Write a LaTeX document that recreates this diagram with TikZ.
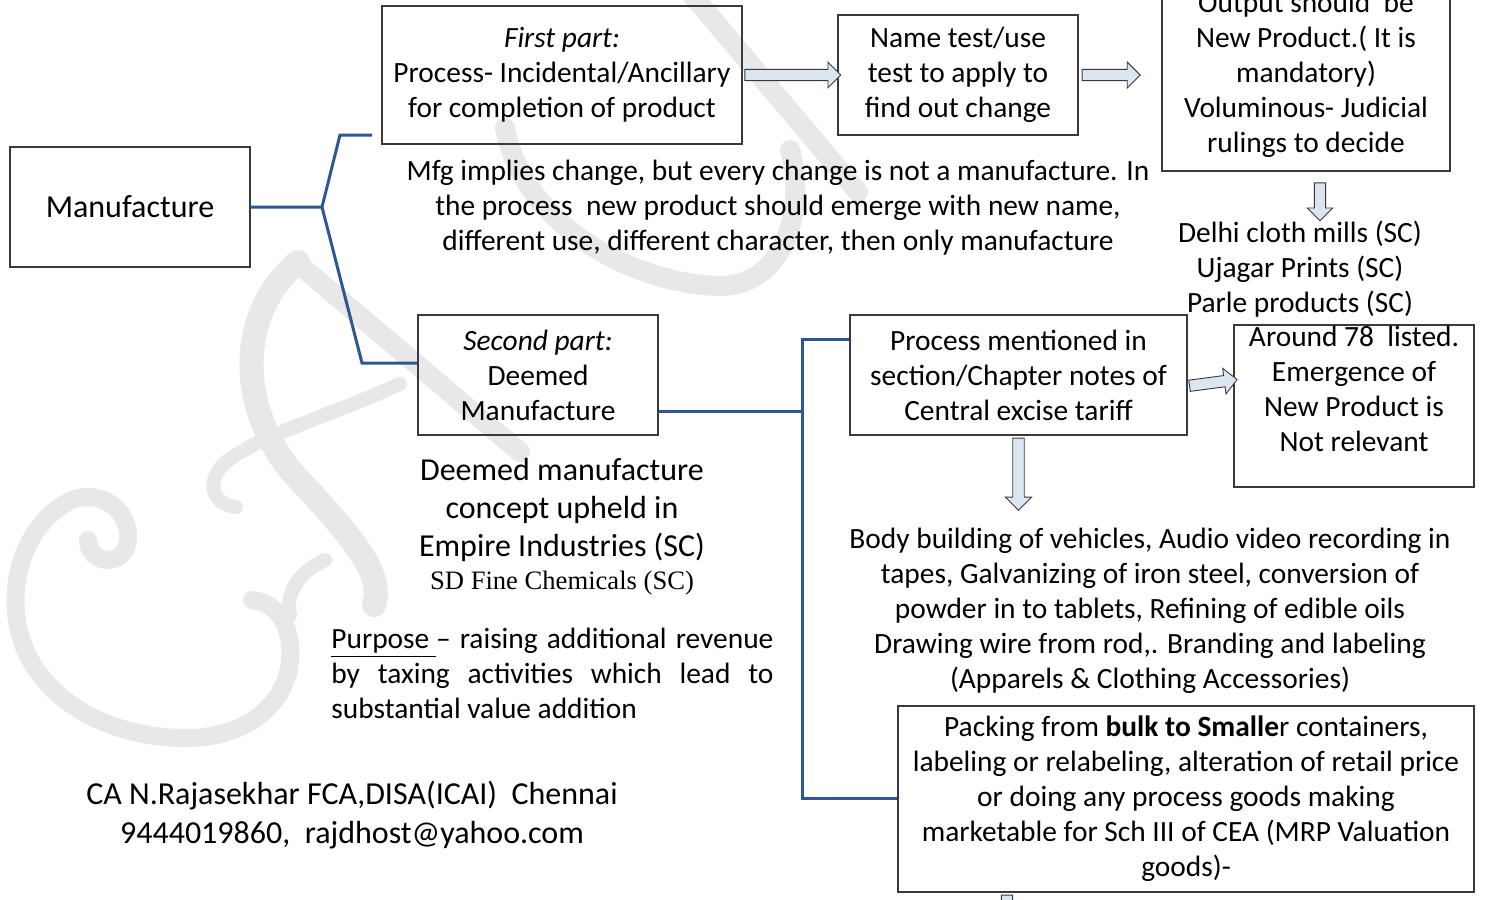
\documentclass[tikz,border=0pt]{standalone}
\usepackage{fontspec}
\setmainfont{Carlito}
\newfontfamily\timesfont{Liberation Serif}
\usetikzlibrary{shapes.arrows,calc}
\definecolor{linkblue}{HTML}{2E5692}
\definecolor{arrowfill}{HTML}{DCE6F2}
\definecolor{boxline}{HTML}{3A3A3A}
\definecolor{markgray}{HTML}{E8E8E8}

\tikzset{
  box/.style={draw=boxline, line width=0.6pt, inner sep=0pt, align=center,
    font=\fontsize{14.7}{17.5}\selectfont},
  note/.style={inner sep=0pt, align=center, font=\fontsize{14.7}{17.5}\selectfont},
  link/.style={draw=linkblue, line width=1.5pt, line join=miter},
  blockarrow/.style={single arrow, draw=boxline, fill=arrowfill, line width=0.45pt,
    inner sep=2.6pt, single arrow head extend=3.6pt, single arrow tip angle=90,
    sloped, midway, outer sep=0pt},
  wm/.style={draw=markgray, line cap=round, line join=round},
}

\begin{document}
\begin{tikzpicture}[x=0.5pt, y=-0.5pt]
\useasboundingbox (0,0) rectangle (1490,900);
\fill[white] (0,0) rectangle (1490,900);

% monogram watermark
\draw[wm, line width=10pt] (688,-10) -- (858,192);
\draw[wm, line width=10pt] (505,128) .. controls (525,230) and (640,285) .. (720,286)
      .. controls (790,285) and (805,200) .. (790,150);
\draw[wm, line width=10pt] (296,262) -- (520,452);
\draw[wm, line width=12pt] (298,262) .. controls (240,310) and (235,400) .. (290,470)
      .. controls (345,530) and (385,570) .. (374,605);
\draw[wm, line width=7pt] (400,384) .. controls (320,420) and (245,440) .. (220,468)
      .. controls (205,490) and (218,505) .. (236,507);
\draw[wm, line width=7pt] (325,560) .. controls (298,572) and (285,595) .. (290,615);
\draw[wm, line width=9pt] (88,540) .. controls (88,565) and (125,568) .. (128,540)
      .. controls (130,505) and (95,490) .. (72,500)
      .. controls (30,520) and (12,570) .. (16,612)
      .. controls (22,690) and (100,738) .. (185,738)
      .. controls (260,738) and (295,690) .. (290,645)
      .. controls (287,615) and (270,602) .. (252,600);

% boxes
\node[box, minimum width=120pt, minimum height=60pt,
      font=\fontsize{16}{19.5}\selectfont] (manu) at (130,207) {Manufacture};
\node[box, minimum width=180pt, minimum height=69pt] (first) at (562,75)
  {\textit{First part:}\\Process- Incidental/Ancillary\\for completion of product};
\node[box, minimum width=120pt, minimum height=60pt] (nametest) at (958,75)
  {Name test/use\\test to apply to\\find out change};
\node[box, minimum width=144pt, minimum height=96pt] (output) at (1306,75)
  {Output should~ be\\New Product.( It is\\mandatory)\\Voluminous- Judicial\\rulings to decide};
\node[box, minimum width=120pt, minimum height=60pt] (second) at (538,375)
  {\textit{Second part:}\\Deemed\\Manufacture};
\node[box, minimum width=168.5pt, minimum height=60pt] (process) at (1018.5,375)
  {Process mentioned in\\section/Chapter notes of\\Central excise tariff};
\node[box, minimum width=120pt, minimum height=81pt] (listed) at (1354,406) {};
\node[note] (listedtext) at (1354,389)
  {Around 78~ listed.\\Emergence of\\New Product is\\Not relevant};
\node[box, minimum width=288pt, minimum height=93pt] (packing) at (1186,799)
  {Packing from \textbf{bulk to Smalle}r containers,\\
   labeling or relabeling, alteration of retail price\\
   or doing any process goods making\\
   marketable for Sch III of CEA (MRP Valuation\\
   goods)-};

% free-standing notes
\node[note] (mfgnote) at (778,208)
  {Mfg implies change, but every change is not a manufacture. In\\
   the process~ new product should emerge with new name,\\
   different use, different character, then only manufacture};
\node[note] (cases) at (1300,269)
  {Delhi cloth mills (SC)\\Ujagar Prints (SC)\\Parle products (SC)};
\node[note, font=\fontsize{16}{19}\selectfont] (deemed) at (562,510)
  {Deemed manufacture\\concept upheld in\\Empire Industries (SC)};
\node[note, font=\timesfont\fontsize{13.3}{15}\selectfont] (sdfine) at (562,583)
  {SD Fine Chemicals (SC)};
\node[inner sep=0pt, anchor=north west, text width=221pt, align=justify,
      font=\fontsize{14.7}{17.5}\selectfont] (purpose) at (331,628)
  {\underline{Purpose~}– raising additional revenue\linebreak
   by taxing activities which lead to\linebreak
   substantial value addition};
\node[note] (examples) at (1150,611)
  {Body building of vehicles, Audio video recording in\\
   tapes, Galvanizing of iron steel, conversion of\\
   powder in to tablets, Refining of edible oils\\
   Drawing wire from rod,. Branding and labeling\\
   (Apparels \& Clothing Accessories)};
\node[note, font=\fontsize{16}{19.5}\selectfont] (author) at (352,815)
  {CA N.Rajasekhar FCA,DISA(ICAI)~ Chennai\\9444019860,~ rajdhost@yahoo.com};

% branching connectors
\coordinate (fork) at (322,207);
\coordinate (upbend) at (340,135);
\coordinate (upend) at (372,135);
\coordinate (downbend) at (362,363);
\draw[link] (manu.east |- fork) -- (fork) -- (upbend) -- (upend);
\draw[link] (fork) -- (downbend) -- (second.west |- downbend);

\coordinate (busmid) at (802,411);
\coordinate (bustop) at (802,339);
\coordinate (busbot) at (802,798);
\draw[link] (second.east |- busmid) -- (busmid);
\draw[link] (process.west |- bustop) -- (bustop) -- (busbot) -- (packing.west |- busbot);

% block arrows
\path (first.east) -- (nametest.west) node[blockarrow, minimum height=48pt, minimum width=12pt] (arr1) {};
\coordinate (arr2end) at (1138,75);
\path (nametest.east) -- (arr2end) node[blockarrow, minimum height=29pt, minimum width=12pt] (arr2) {};
\coordinate (arr3start) at (1320,180);
\coordinate (arr3end) at (1320,218);
\path (arr3start) -- (arr3end) node[blockarrow, minimum height=19pt, minimum width=12pt] (arr3) {};
\coordinate (arr4start) at ($(process.east)+(0,11)$);
\coordinate (arr4end) at ($(listed.west)+(0,-26)$);
\path (arr4start) -- (arr4end) node[blockarrow, minimum height=24pt, minimum width=12pt] (arr4) {};
\coordinate (arr5end) at (1018.5,507);
\path (process.south) -- (arr5end) node[blockarrow, minimum height=36pt, minimum width=13pt] (arr5) {};
\coordinate (arr6end) at (1007,940);
\path (packing.south -| arr6end) -- (arr6end) node[blockarrow, minimum height=24pt, minimum width=12pt] (arr6) {};
\end{tikzpicture}
\end{document}
